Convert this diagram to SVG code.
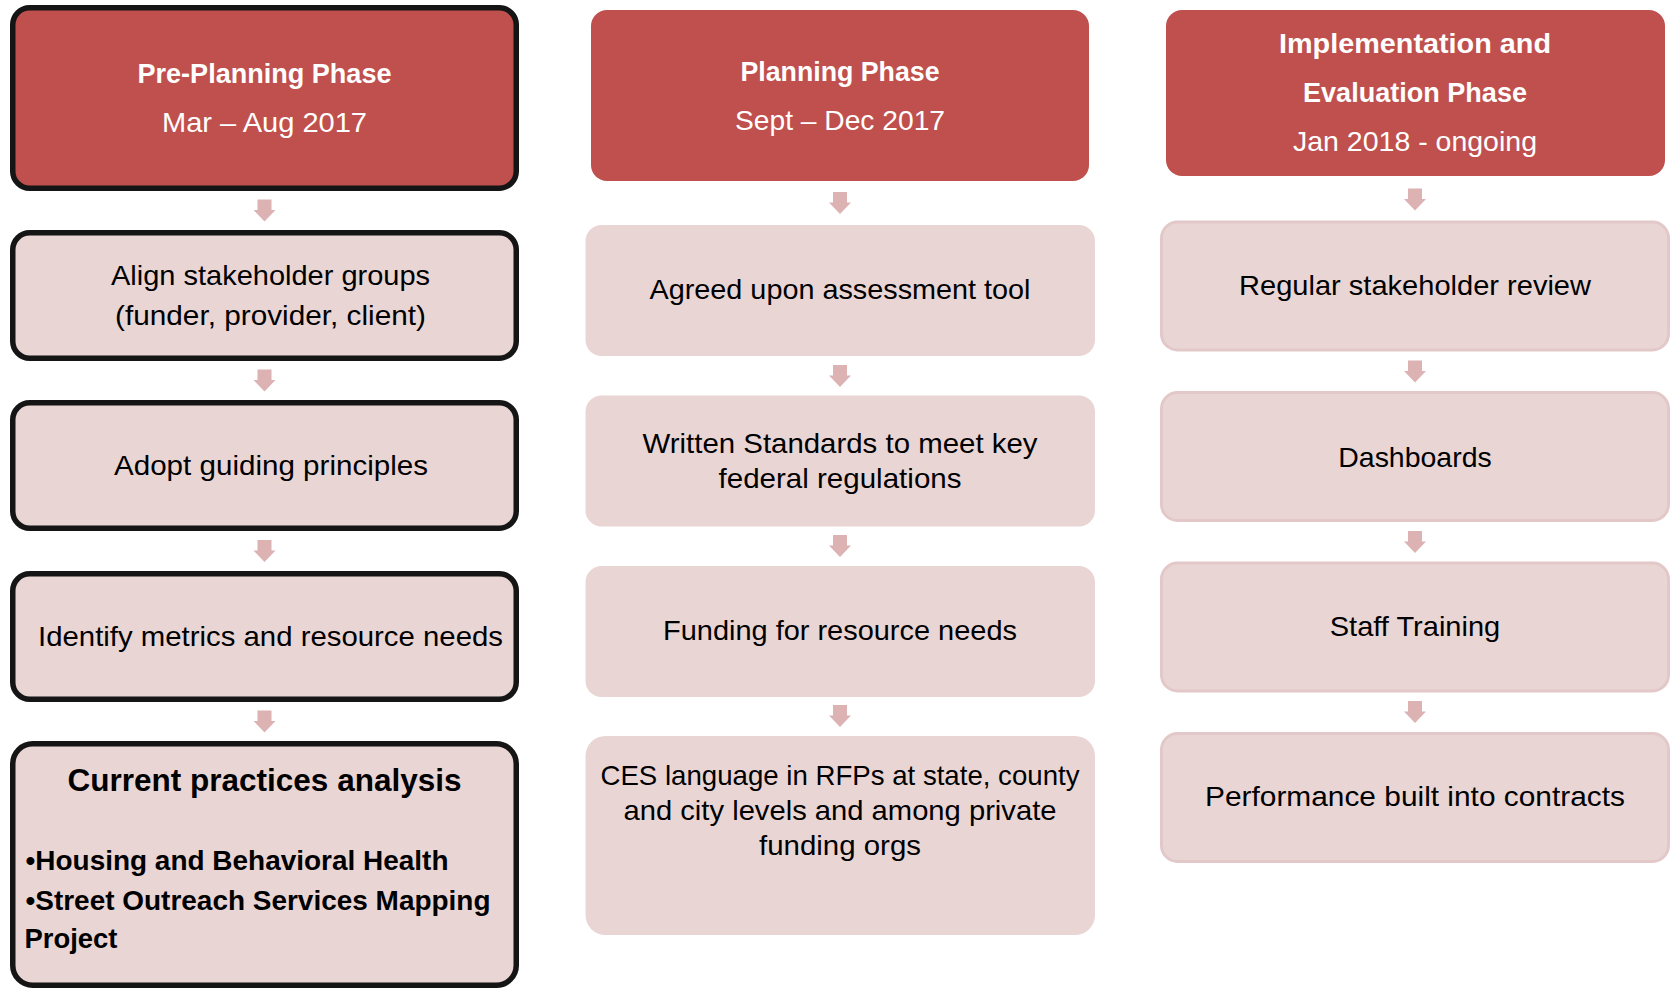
<svg xmlns="http://www.w3.org/2000/svg" xmlns:xlink="http://www.w3.org/1999/xlink" width="1671" height="989" viewBox="0 0 1671 989">
<style>
.hdr{fill:#C0504D}
.hdr1{fill:#C0504D;stroke:#151515;stroke-width:5.5}
.b1{fill:#EAD5D5;stroke:#151515;stroke-width:5.5}
.b2{fill:#EAD5D5}
.b3{fill:#EAD5D5;stroke:#E3C8C9;stroke-width:3}
text{font-family:"Liberation Sans",Arial,sans-serif;font-size:28px;text-anchor:middle;fill:#000}
.w{fill:#fff}
.bd{font-weight:bold}
.lt{text-anchor:start}
.arr{fill:#DCB2B3}
</style>
<defs>
<path id="arr" d="M-7,0 H7 V10.5 H11 L0,22 L-11,10.5 H-7 Z"/>
</defs>
<rect width="1671" height="989" fill="#fff"/>

<g id="connectors" class="arr">
<use xlink:href="#arr" x="264.5" y="199.5"/>
<use xlink:href="#arr" x="264.5" y="369.5"/>
<use xlink:href="#arr" x="264.5" y="540"/>
<use xlink:href="#arr" x="264.5" y="710.5"/>
<use xlink:href="#arr" x="840" y="192"/>
<use xlink:href="#arr" x="840" y="365"/>
<use xlink:href="#arr" x="840" y="535"/>
<use xlink:href="#arr" x="840" y="705"/>
<use xlink:href="#arr" x="1415" y="188.5"/>
<use xlink:href="#arr" x="1415" y="360.5"/>
<use xlink:href="#arr" x="1415" y="531"/>
<use xlink:href="#arr" x="1415" y="701"/>
</g>

<g id="pre-planning">
<rect class="hdr1" x="12.75" y="7.75" width="503.5" height="180.5" rx="17"/>
<text class="w bd" x="264.5" y="82.5" textLength="254" lengthAdjust="spacingAndGlyphs">Pre-Planning Phase</text>
<text class="w" x="264.5" y="131.5" textLength="205" lengthAdjust="spacingAndGlyphs">Mar – Aug 2017</text>
</g>
<g id="align">
<rect class="b1" x="12.75" y="232.75" width="503.5" height="125.5" rx="17"/>
<text x="270.5" y="284.5" textLength="319" lengthAdjust="spacingAndGlyphs">Align stakeholder groups</text>
<text x="270.5" y="324.5" textLength="311" lengthAdjust="spacingAndGlyphs">(funder, provider, client)</text>
</g>
<g id="adopt">
<rect class="b1" x="12.75" y="402.75" width="503.5" height="125.5" rx="17"/>
<text x="271" y="475" textLength="314" lengthAdjust="spacingAndGlyphs">Adopt guiding principles</text>
</g>
<g id="identify">
<rect class="b1" x="12.75" y="573.75" width="503.5" height="125.5" rx="17"/>
<text x="270.5" y="646" textLength="465" lengthAdjust="spacingAndGlyphs">Identify metrics and resource needs</text>
</g>
<g id="current">
<rect class="b1" x="12.75" y="743.75" width="503.5" height="241.5" rx="20"/>
<text class="bd" x="264.5" y="790.5" style="font-size:31.5px" textLength="394" lengthAdjust="spacingAndGlyphs">Current practices analysis</text>
<text class="bd lt" x="25.5" y="870" textLength="423" lengthAdjust="spacingAndGlyphs">•Housing and Behavioral Health</text>
<text class="bd lt" x="25.5" y="909.5" textLength="465" lengthAdjust="spacingAndGlyphs">•Street Outreach Services Mapping</text>
<text class="bd lt" x="24.5" y="948" textLength="93" lengthAdjust="spacingAndGlyphs">Project</text>
</g>

<g id="planning">
<rect class="hdr" x="591" y="10" width="498" height="171" rx="16"/>
<text class="w bd" x="840" y="80.5" textLength="199" lengthAdjust="spacingAndGlyphs">Planning Phase</text>
<text class="w" x="840" y="129.5" textLength="210" lengthAdjust="spacingAndGlyphs">Sept – Dec 2017</text>
</g>
<g id="agreed">
<rect class="b2" x="585.5" y="225" width="509.5" height="131" rx="16"/>
<text x="840" y="299" textLength="381" lengthAdjust="spacingAndGlyphs">Agreed upon assessment tool</text>
</g>
<g id="written">
<rect class="b2" x="585.5" y="395.5" width="509.5" height="131" rx="16"/>
<text x="840" y="452.5" textLength="395" lengthAdjust="spacingAndGlyphs">Written Standards to meet key</text>
<text x="840" y="487.5" textLength="243" lengthAdjust="spacingAndGlyphs">federal regulations</text>
</g>
<g id="funding">
<rect class="b2" x="585.5" y="566" width="509.5" height="131" rx="16"/>
<text x="840" y="640" textLength="354" lengthAdjust="spacingAndGlyphs">Funding for resource needs</text>
</g>
<g id="ces">
<rect class="b2" x="585.5" y="736" width="509.5" height="199" rx="20"/>
<text x="840" y="784.5" textLength="479" lengthAdjust="spacingAndGlyphs">CES language in RFPs at state, county</text>
<text x="840" y="820" textLength="433" lengthAdjust="spacingAndGlyphs">and city levels and among private</text>
<text x="840" y="855" textLength="162" lengthAdjust="spacingAndGlyphs">funding orgs</text>
</g>

<g id="implementation">
<rect class="hdr" x="1166" y="10" width="499" height="166" rx="16"/>
<text class="w bd" x="1415" y="53" textLength="272" lengthAdjust="spacingAndGlyphs">Implementation and</text>
<text class="w bd" x="1415" y="102" textLength="224" lengthAdjust="spacingAndGlyphs">Evaluation Phase</text>
<text class="w" x="1415" y="151" textLength="244" lengthAdjust="spacingAndGlyphs">Jan 2018 - ongoing</text>
</g>
<g id="review">
<rect class="b3" x="1161.5" y="222" width="507" height="128" rx="16"/>
<text x="1415" y="295" textLength="352" lengthAdjust="spacingAndGlyphs">Regular stakeholder review</text>
</g>
<g id="dashboards">
<rect class="b3" x="1161.5" y="392.5" width="507" height="128" rx="16"/>
<text x="1415" y="466.5" textLength="153.5" lengthAdjust="spacingAndGlyphs">Dashboards</text>
</g>
<g id="training">
<rect class="b3" x="1161.5" y="563" width="507" height="128" rx="16"/>
<text x="1415" y="635.5" textLength="170.5" lengthAdjust="spacingAndGlyphs">Staff Training</text>
</g>
<g id="performance">
<rect class="b3" x="1161.5" y="733.5" width="507" height="128" rx="16"/>
<text x="1415" y="806" textLength="420" lengthAdjust="spacingAndGlyphs">Performance built into contracts</text>
</g>
</svg>
